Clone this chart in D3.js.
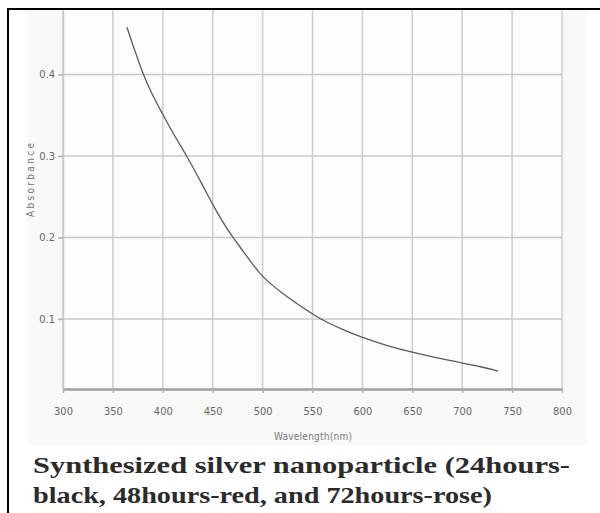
<!DOCTYPE html>
<meta charset="utf-8">
<script src="https://d3js.org/d3.v7.min.js"></script>
<style>
  body { margin: 0; background: #fff; }
</style>
<div id="my_dataviz"></div>
<script>

// spectrum
var wavelength = [364, 372, 380, 389, 400, 410, 424, 440, 450, 460, 470, 480, 490, 500, 520, 540, 557, 580, 600, 625, 650, 675, 700, 720, 736];
var absorbance = [0.458, 0.429, 0.401, 0.376, 0.351, 0.328, 0.300, 0.264, 0.240, 0.219, 0.200, 0.184, 0.167, 0.151, 0.131, 0.114, 0.100, 0.087, 0.077, 0.067, 0.059, 0.052, 0.046, 0.041, 0.036];
var xTicks = [300, 350, 400, 450, 500, 550, 600, 650, 700, 750, 800];
var yTicks = [0.1, 0.2, 0.3, 0.4];
var caption = ["Synthesized silver nanoparticle (24hours-", "black, 48hours-red, and 72hours-rose)"];

var data = wavelength.map(function(w, i) { return {x: w, y: absorbance[i]}; });

var svg = d3.select("#my_dataviz")
  .append("svg")
    .attr("width", 600)
    .attr("height", 513);

// outer frame
svg.append("rect")
  .attr("x", 27).attr("y", 10).attr("width", 560).attr("height", 435)
  .attr("fill", "#f9f9f9");
svg.append("path")
  .attr("d", "M8,520V9H600")
  .attr("fill", "none").attr("stroke", "#000").attr("stroke-width", 2);

var x = d3.scaleLinear().domain([300, 800]).range([63, 562]);
var y = d3.scaleLinear().domain([0.014, 0.479]).range([389, 10]);

svg.append("rect")
  .attr("x", 63).attr("y", 10).attr("width", 499).attr("height", 379)
  .attr("fill", "#fdfdfd");

// grid
svg.append("g").selectAll("line").data(xTicks).enter().append("line")
  .attr("x1", function(d) { return x(d); }).attr("x2", function(d) { return x(d); })
  .attr("y1", 10).attr("y2", 389)
  .attr("stroke", "#cdcdcd").attr("stroke-width", 1.5);
svg.append("g").selectAll("line").data(yTicks).enter().append("line")
  .attr("x1", 63).attr("x2", 562)
  .attr("y1", function(d) { return y(d); }).attr("y2", function(d) { return y(d); })
  .attr("stroke", "#c8c8c8").attr("stroke-width", 1.5);

// axes
var xAxis = svg.append("g")
  .attr("transform", "translate(0,389)")
  .call(d3.axisBottom(x).tickValues(xTicks).tickSize(4).tickSizeOuter(0).tickPadding(14));
var yAxis = svg.append("g")
  .attr("transform", "translate(63,0)")
  .call(d3.axisLeft(y).tickValues(yTicks).tickSize(5).tickSizeOuter(0).tickPadding(3).tickFormat(d3.format(".1f")));

xAxis.select(".domain").attr("stroke", "#a0a0a0").attr("stroke-width", 2.5);
yAxis.select(".domain").attr("stroke", "#c8c8c8").attr("stroke-width", 1.5);
svg.selectAll(".tick line").attr("stroke", "#b0b0b0").attr("stroke-width", 1.5);
svg.selectAll(".tick text")
  .attr("fill", "#666")
  .style("font-family", "DejaVu Sans Condensed, Liberation Sans Narrow, sans-serif")
  .style("font-size", "11px");

// curve
svg.append("path")
  .datum(data)
  .attr("fill", "none")
  .attr("stroke", "#5a5a5a")
  .attr("stroke-width", 1.3)
  .attr("d", d3.line().curve(d3.curveBasis)
    .x(function(d) { return x(d.x); })
    .y(function(d) { return y(d.y); }));

// axis titles
svg.append("text")
  .attr("transform", "translate(34,180) rotate(-90)")
  .attr("text-anchor", "middle")
  .attr("fill", "#777")
  .attr("textLength", 74)
  .style("font-family", "DejaVu Sans Condensed, sans-serif")
  .style("font-size", "10px")
  .text("Absorbance");
svg.append("text")
  .attr("x", 313).attr("y", 440)
  .attr("text-anchor", "middle")
  .attr("fill", "#777")
  .attr("textLength", 78)
  .style("font-family", "DejaVu Sans Condensed, sans-serif")
  .style("font-size", "10px")
  .text("Wavelength(nm)");

// caption
svg.selectAll(".caption").data(caption).enter().append("text")
  .attr("class", "caption")
  .attr("x", 33)
  .attr("y", function(d, i) { return 473 + i * 30; })
  .attr("textLength", function(d, i) { return i == 0 ? 537 : 459; })
  .attr("lengthAdjust", "spacingAndGlyphs")
  .attr("fill", "#2b2b2b")
  .style("font-family", "Liberation Serif, serif")
  .style("font-weight", "bold")
  .style("font-size", "24px")
  .text(function(d) { return d; });

</script>
